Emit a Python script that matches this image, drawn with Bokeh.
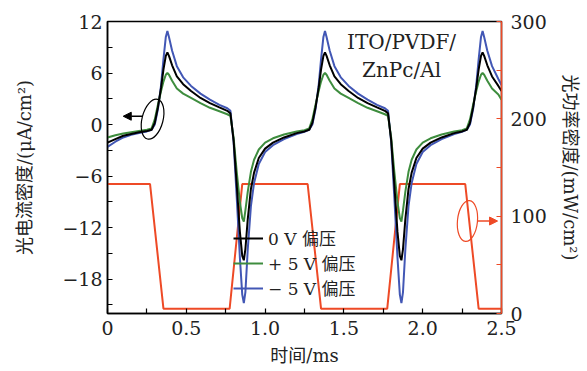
from bokeh.plotting import figure
from bokeh.models import (Range1d, LinearAxis, FixedTicker, Legend, LegendItem,
                          Label, Arrow, NormalHead)
from bokeh.embed import file_html
from bokeh.resources import INLINE

# ---------------- data ----------------
time_ms = [0.00, 0.05, 0.10, 0.15, 0.20, 0.25, 0.28,
           0.30, 0.32, 0.34, 0.355, 0.37, 0.38, 0.39, 0.41, 0.44, 0.48, 0.53, 0.59,
           0.65, 0.71, 0.76, 0.78, 0.80, 0.82, 0.84, 0.855, 0.865, 0.875, 0.89, 0.91,
           0.93, 0.96, 1.00, 1.05, 1.12, 1.20, 1.25, 1.28,
           1.30, 1.32, 1.34, 1.355, 1.37, 1.38, 1.39, 1.41, 1.44, 1.48, 1.53, 1.59,
           1.65, 1.71, 1.76, 1.78, 1.80, 1.82, 1.84, 1.855, 1.865, 1.875, 1.89, 1.91,
           1.93, 1.96, 2.00, 2.05, 2.12, 2.20, 2.25, 2.28,
           2.30, 2.32, 2.34, 2.355, 2.37, 2.38, 2.39, 2.41, 2.44, 2.48, 2.50]

j_0v = [-2.1, -1.7, -1.3, -1.1, -0.9, -0.75, -0.6,
        0.2, 2.0, 4.3, 6.4, 8.0, 8.4, 8.0, 6.9, 5.6, 4.7, 3.9, 3.1,
        2.5, 2.0, 1.6, 1.3, -1.8, -7.0, -12.5, -15.3, -15.8, -14.5, -11.0, -7.5,
        -5.6, -3.9, -2.8, -2.1, -1.5, -1.0, -0.8, -0.6,
        0.2, 2.0, 4.3, 6.4, 8.0, 8.4, 8.0, 6.9, 5.6, 4.7, 3.9, 3.1,
        2.5, 2.0, 1.6, 1.3, -1.8, -7.0, -12.5, -15.3, -15.8, -14.5, -11.0, -7.5,
        -5.6, -3.9, -2.8, -2.1, -1.5, -1.0, -0.8, -0.6,
        0.2, 2.0, 4.3, 6.4, 8.0, 8.4, 8.0, 6.9, 5.6, 4.5, 3.9]

j_p5v = [-1.5, -1.25, -1.05, -0.9, -0.75, -0.6, -0.45,
         0.6, 2.3, 3.9, 5.0, 5.8, 6.0, 5.8, 5.1, 4.2, 3.6, 3.1, 2.5,
         1.95, 1.55, 1.2, 1.0, -1.5, -5.5, -9.0, -10.9, -11.3, -10.0, -7.8, -5.5,
         -4.1, -2.9, -2.1, -1.6, -1.15, -0.8, -0.65, -0.45,
         0.6, 2.3, 3.9, 5.0, 5.8, 6.0, 5.8, 5.1, 4.2, 3.6, 3.1, 2.5,
         1.95, 1.55, 1.2, 1.0, -1.5, -5.5, -9.0, -10.9, -11.3, -10.0, -7.8, -5.5,
         -4.1, -2.9, -2.1, -1.6, -1.15, -0.8, -0.65, -0.45,
         0.6, 2.3, 3.9, 5.0, 5.8, 6.0, 5.8, 5.1, 4.2, 3.5, 2.9]

j_m5v = [-2.6, -2.0, -1.5, -1.2, -1.0, -0.8, -0.6,
         0.0, 1.8, 4.6, 7.6, 10.2, 10.9, 10.2, 8.6, 6.8, 5.5, 4.5, 3.6,
         2.9, 2.3, 1.9, 1.6, -2.0, -8.5, -15.5, -19.8, -20.8, -19.5, -14.5, -9.5,
         -6.8, -4.6, -3.2, -2.4, -1.7, -1.1, -0.85, -0.6,
         0.0, 1.8, 4.6, 7.6, 10.2, 10.9, 10.2, 8.6, 6.8, 5.5, 4.5, 3.6,
         2.9, 2.3, 1.9, 1.6, -2.0, -8.5, -15.5, -19.8, -20.8, -19.5, -14.5, -9.5,
         -6.8, -4.6, -3.2, -2.4, -1.7, -1.1, -0.85, -0.6,
         0.0, 1.8, 4.6, 7.6, 10.2, 10.9, 10.2, 8.6, 6.8, 5.3, 4.6]

power_t = [0.0, 0.27, 0.355, 0.775, 0.855, 1.27, 1.355, 1.775, 1.855, 2.27, 2.355, 2.5]
power_v = [133, 133, 5, 5, 133, 133, 5, 5, 133, 133, 5, 5]

x_ticks = [0, 0.25, 0.5, 0.75, 1.0, 1.25, 1.5, 1.75, 2.0, 2.25, 2.5]
x_labels = ["0", "", "0.5", "", "1.0", "", "1.5", "", "2.0", "", "2.5"]
y_ticks = [-21, -18, -15, -12, -9, -6, -3, 0, 3, 6, 9, 12]
y_labels = ["", "\u221218", "", "\u221212", "", "\u22126", "", "0", "", "6", "", "12"]
p_ticks = [0, 50, 100, 150, 200, 250, 300]
p_labels = ["0", "", "100", "", "200", "", "300"]

legend_labels = ["0 V 偏压", "+ 5 V 偏压", "\u2212 5 V 偏压"]

# ---------------- styles ----------------
SERIF = "DejaVu Serif"
MIX = "'DejaVu Serif', 'Noto Sans CJK SC'"
RED = "#ee4a26"
BLUE = "#4257b5"
GREEN = "#3e8d3e"
TICK_FS = "19px"

p = figure(width=585, height=370, output_backend="svg", toolbar_location=None,
           x_range=Range1d(0, 2.5), y_range=Range1d(-22, 12),
           min_border_left=107, min_border_right=84, min_border_top=21,
           min_border_bottom=57)
p.extra_y_ranges = {"power": Range1d(0, 300)}
p.xgrid.visible = False
p.ygrid.visible = False
p.outline_line_color = "black"
p.outline_line_width = 1.5
p.background_fill_color = "white"

r_pow = p.line(power_t, power_v, y_range_name="power", line_color=RED, line_width=2)
r_b = p.line(time_ms, j_m5v, line_color=BLUE, line_width=2)
r_g = p.line(time_ms, j_p5v, line_color=GREEN, line_width=2)
r_k = p.line(time_ms, j_0v, line_color="black", line_width=2)

# axes
xa = p.xaxis[0]
xa.ticker = FixedTicker(ticks=x_ticks)
xa.major_label_overrides = {t: l for t, l in zip(x_ticks, x_labels)}
xa.axis_label = "时间/ms"

ya = p.yaxis[0]
ya.ticker = FixedTicker(ticks=y_ticks)
ya.major_label_overrides = {t: l for t, l in zip(y_ticks, y_labels)}
ya.axis_label = "光电流密度/(μA/cm²)"

ra = LinearAxis(y_range_name="power", ticker=FixedTicker(ticks=p_ticks),
                axis_label="光功率密度/(mW/cm²)")
ra.major_label_overrides = {t: l for t, l in zip(p_ticks, p_labels)}
p.add_layout(ra, "right")

for ax in (xa, ya, ra):
    ax.major_tick_in = 5
    ax.major_tick_out = 0
    ax.minor_tick_line_color = None
    ax.axis_line_width = 1.5
    ax.major_tick_line_width = 1.2
    ax.major_label_text_font = SERIF
    ax.major_label_text_font_size = TICK_FS
    ax.major_label_text_color = "#222222"
    ax.axis_label_text_font = MIX
    ax.axis_label_text_font_size = "18px"
    ax.axis_label_text_font_style = "normal"
    ax.axis_label_text_color = "#222222"

xa.major_label_standoff = 7
xa.axis_label_standoff = 7
ya.major_label_standoff = 5
ya.axis_label_standoff = 24
ra.major_label_standoff = 9
ra.axis_label_standoff = 10
ra.axis_line_color = RED
ra.major_tick_line_color = RED

# legend
legend = Legend(items=[LegendItem(label=legend_labels[0], renderers=[r_k]),
                       LegendItem(label=legend_labels[1], renderers=[r_g]),
                       LegendItem(label=legend_labels[2], renderers=[r_b])],
                location=(126, 13), background_fill_alpha=0, border_line_alpha=0,
                padding=0, margin=0, spacing=0, glyph_width=30, glyph_height=20,
                label_height=20, label_standoff=5, label_text_font=MIX,
                label_text_font_size="17px", label_text_color="#222222")
p.add_layout(legend)

# annotations
p.ellipse(x=[0.286], y=[0.63], width=21, height=41, width_units="screen",
          height_units="screen", angle=-0.25, fill_alpha=0, line_color="black",
          line_width=1.2)
p.add_layout(Arrow(end=NormalHead(size=8, fill_color="black", line_color="black"),
                   x_start=0.222, y_start=0.97, x_end=0.10, y_end=0.97,
                   line_color="black", line_width=1.5))
p.ellipse(x=[2.284], y=[95], width=20, height=41, width_units="screen",
          height_units="screen", angle=-0.1, fill_alpha=0, line_color=RED,
          line_width=1.2, y_range_name="power")
p.add_layout(Arrow(end=NormalHead(size=8, fill_color=RED, line_color=RED),
                   x_start=2.348, y_start=95, x_end=2.475, y_end=95,
                   line_color=RED, line_width=1.5, y_range_name="power"))

p.add_layout(Label(x=1.866, y=9.67, text="ITO/PVDF/", text_align="center",
                   text_baseline="middle", text_font=SERIF, text_font_size="20px",
                   text_color="#222222"))
p.add_layout(Label(x=1.866, y=6.3, text="ZnPc/Al", text_align="center",
                   text_baseline="middle", text_font=SERIF, text_font_size="20px",
                   text_color="#222222"))

open("out.html", "w").write(file_html(p, INLINE))
